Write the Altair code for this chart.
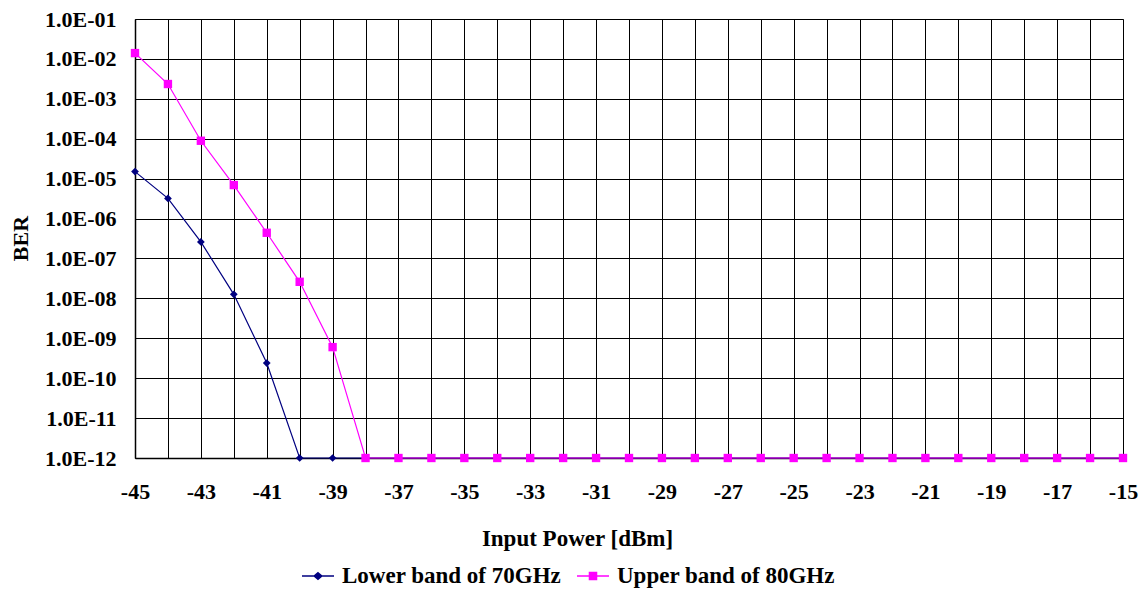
import altair as alt
import pandas as pd

power = [-45, -44, -43, -42, -41, -40, -39, -38, -37, -36, -35, -34, -33, -32, -31,
         -30, -29, -28, -27, -26, -25, -24, -23, -22, -21, -20, -19, -18, -17, -16, -15]
lower_ber = [1.5e-5, 3.2e-6, 2.6e-7, 1.26e-8, 2.4e-10, 1e-12, 1e-12, 1e-12, 1e-12, 1e-12,
             1e-12, 1e-12, 1e-12, 1e-12, 1e-12, 1e-12, 1e-12, 1e-12, 1e-12, 1e-12,
             1e-12, 1e-12, 1e-12, 1e-12, 1e-12, 1e-12, 1e-12, 1e-12, 1e-12, 1e-12, 1e-12]
upper_ber = [1.4e-2, 2.35e-3, 8.9e-5, 6.9e-6, 4.4e-7, 2.6e-8, 6.0e-10, 1e-12, 1e-12, 1e-12,
             1e-12, 1e-12, 1e-12, 1e-12, 1e-12, 1e-12, 1e-12, 1e-12, 1e-12, 1e-12,
             1e-12, 1e-12, 1e-12, 1e-12, 1e-12, 1e-12, 1e-12, 1e-12, 1e-12, 1e-12, 1e-12]
series_names = ["Lower band of 70GHz", "Upper band of 80GHz"]
series_colors = ["#000080", "#FF00FF"]
y_ticks = [1e-12, 1e-11, 1e-10, 1e-9, 1e-8, 1e-7, 1e-6, 1e-5, 1e-4, 1e-3, 1e-2, 1e-1]

df = pd.DataFrame({
    "x": power + power,
    "y": lower_ber + upper_ber,
    "series": [series_names[0]] * len(power) + [series_names[1]] * len(power),
})

FONT = "Liberation Serif"
FS = 22

x_enc = alt.X(
    "x:Q",
    scale=alt.Scale(domain=[-45, -15], nice=False, zero=False),
    axis=alt.Axis(
        title="Input Power [dBm]",
        values=power,
        labelExpr="(datum.value + 45) % 2 == 0 ? '-' + abs(datum.value) : ''",
        grid=True, gridColor="#000000", gridWidth=1, gridOpacity=1,
        ticks=False, tickSize=0,
        domainColor="#000000", domainWidth=1.5,
        labelFont=FONT, labelFontSize=FS, labelFontWeight="bold", labelColor="#000000",
        labelPadding=23, labelFlush=False, labelOverlap=False,
        titleFont=FONT, titleFontSize=23, titleFontWeight="bold", titleColor="#000000",
        titleX=442, titleY=87, titleBaseline="alphabetic", titleAlign="center",
    ),
)
y_enc = alt.Y(
    "y:Q",
    scale=alt.Scale(type="log", domain=[1e-12, 1e-1], nice=False),
    axis=alt.Axis(
        title="BER",
        values=y_ticks,
        labelExpr="'1.0E-' + (round(-log(datum.value)/LN10) < 10 ? '0' : '') + round(-log(datum.value)/LN10)",
        grid=True, gridColor="#000000", gridWidth=1, gridOpacity=1,
        ticks=False, tickSize=0,
        domainColor="#000000", domainWidth=1.5,
        labelFont=FONT, labelFontSize=FS, labelFontWeight="bold", labelColor="#000000",
        labelPadding=19, labelOverlap=False, labelFlush=False,
        titleFont=FONT, titleFontSize=FS, titleFontWeight="bold", titleColor="#000000",
        titleX=-108, titleY=219, titleBaseline="alphabetic", titleAlign="center", titleAngle=270,
    ),
)

base = alt.Chart(df)

lower_line = base.transform_filter(alt.datum.series == series_names[0]).mark_line(
    color=series_colors[0], strokeWidth=1.2).encode(x=x_enc, y=y_enc)
lower_pts = base.transform_filter(alt.datum.series == series_names[0]).mark_point(
    shape="diamond", filled=True, color=series_colors[0], size=60, opacity=1).encode(x=x_enc, y=y_enc)
upper_line = base.transform_filter(alt.datum.series == series_names[1]).mark_line(
    color=series_colors[1], strokeWidth=1.2).encode(x=x_enc, y=y_enc)
upper_pts = base.transform_filter(alt.datum.series == series_names[1]).mark_point(
    shape="square", filled=True, color=series_colors[1], size=70, opacity=1).encode(x=x_enc, y=y_enc)

legend_paths = [
    "M-1,0H1M0,-0.2L0.24,0L0,0.2L-0.24,0Z",
    "M-1,0H1M-0.22,-0.22H0.22V0.22H-0.22Z",
]
leg = alt.Legend(
    title=None, orient="none", legendX=166, legendY=540, direction="horizontal",
    symbolSize=1024, symbolStrokeWidth=1.5,
    labelFont=FONT, labelFontSize=23, labelFontWeight="bold", labelColor="#000000",
    labelOffset=7, columnPadding=12, padding=0, labelLimit=1000,
)
legend_layer = base.transform_filter("datum.x > 0").mark_point(
    filled=True, opacity=1, strokeWidth=1.5).encode(
    x=x_enc, y=y_enc,
    fill=alt.Fill("series:N", scale=alt.Scale(domain=series_names, range=series_colors), legend=leg),
    stroke=alt.Stroke("series:N", scale=alt.Scale(domain=series_names, range=series_colors), legend=leg),
    shape=alt.Shape("series:N", scale=alt.Scale(domain=series_names, range=legend_paths), legend=leg),
)

chart = alt.layer(lower_line, lower_pts, upper_line, upper_pts, legend_layer).properties(
    width=988, height=439,
    padding={"left": 135, "top": 19, "right": 22, "bottom": 136},
    autosize=alt.AutoSizeParams(type="none"),
    background="#FFFFFF",
).configure_view(stroke="#888888", strokeWidth=1)

chart.save("out.html", embed_options={"renderer": "svg", "actions": False})
